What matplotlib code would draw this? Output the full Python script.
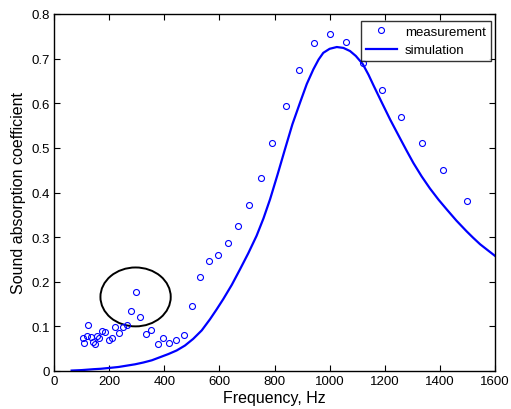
import matplotlib
matplotlib.use("Agg")
import matplotlib.pyplot as plt
from matplotlib.patches import Ellipse

plt.rcParams['font.family'] = ['Liberation Sans', 'DejaVu Sans']

# Measurement data (frequency Hz, absorption coefficient)
meas_freq = [104, 109, 119, 124, 133, 143, 148, 157, 164, 174, 186, 198, 209, 221,
             235, 250, 266, 280, 296, 313, 335, 352, 376, 397, 418, 444, 473, 501,
             530, 562, 596, 630, 668, 706, 750, 792, 842, 890, 944, 1000, 1060,
             1121, 1190, 1260, 1334, 1413, 1497]
meas_alpha = [0.075, 0.063, 0.079, 0.103, 0.077, 0.066, 0.060, 0.078, 0.074, 0.090,
              0.087, 0.070, 0.075, 0.099, 0.086, 0.099, 0.104, 0.134, 0.178, 0.122,
              0.084, 0.092, 0.060, 0.073, 0.063, 0.069, 0.081, 0.146, 0.211, 0.246,
              0.260, 0.287, 0.324, 0.371, 0.432, 0.511, 0.594, 0.674, 0.734, 0.755,
              0.737, 0.690, 0.630, 0.570, 0.511, 0.450, 0.382]

# Simulation curve
sim_freq = [64, 100, 143, 170, 203, 234, 264, 294, 324, 355, 385, 415, 445, 475,
            505, 536, 566, 590, 614, 645, 675, 705, 735, 760, 784, 811, 838, 865,
            893, 917, 941, 960, 977, 1000, 1026, 1050, 1074, 1095, 1120, 1141, 1160,
            1189, 1220, 1255, 1280, 1304, 1334, 1364, 1395, 1425, 1460, 1497, 1520,
            1546, 1575, 1600]
sim_alpha = [0.001, 0.002, 0.004, 0.005, 0.007, 0.009, 0.012, 0.015, 0.019, 0.024,
             0.031, 0.038, 0.046, 0.057, 0.072, 0.091, 0.116, 0.138, 0.161, 0.193,
             0.228, 0.264, 0.303, 0.342, 0.385, 0.440, 0.497, 0.553, 0.602, 0.643,
             0.676, 0.698, 0.713, 0.722, 0.726, 0.724, 0.717, 0.706, 0.688, 0.664,
             0.639, 0.602, 0.563, 0.522, 0.493, 0.466, 0.436, 0.409, 0.384, 0.362,
             0.337, 0.313, 0.299, 0.284, 0.270, 0.258]

x_ticks = [0, 200, 400, 600, 800, 1000, 1200, 1400, 1600]
y_ticks = [0, 0.1, 0.2, 0.3, 0.4, 0.5, 0.6, 0.7, 0.8]
y_tick_labels = ['0', '0.1', '0.2', '0.3', '0.4', '0.5', '0.6', '0.7', '0.8']

fig = plt.figure(figsize=(5.11, 4.10), dpi=100)
ax = fig.add_axes([54/511, 38/410, 441/511, 357/410])

ax.plot(meas_freq, meas_alpha, linestyle='none', marker='o', markersize=4.3,
        markerfacecolor='none', markeredgecolor='#0000ff', markeredgewidth=0.8,
        label='measurement')
ax.plot(sim_freq, sim_alpha, color='#0000ff', linewidth=1.6, label='simulation',
        solid_joinstyle='round')

ax.add_patch(Ellipse((296, 0.166), 255, 0.132, fill=False, edgecolor='black',
                     linewidth=1.4))

ax.set_xlim(0, 1600)
ax.set_ylim(0, 0.8)
ax.set_xticks(x_ticks)
ax.set_yticks(y_ticks)
ax.set_yticklabels(y_tick_labels)
ax.tick_params(direction='in', top=True, right=True, length=4, width=0.8,
               labelsize=9.5, pad=3)
for s in ax.spines.values():
    s.set_linewidth(1.0)

ax.set_xlabel('Frequency, Hz', fontsize=11.5, labelpad=2)
ax.set_ylabel('Sound absorption coefficient', fontsize=11.5, labelpad=4)

leg = ax.legend(loc='upper right', fontsize=9.5, frameon=True, fancybox=False,
                edgecolor='black', bbox_to_anchor=(0.99, 0.98),
                borderaxespad=0.0, handlelength=2.4,
                borderpad=0.35, labelspacing=0.45, handletextpad=0.6)
leg.get_frame().set_linewidth(1.0)

fig.savefig('out.png', dpi=100)
